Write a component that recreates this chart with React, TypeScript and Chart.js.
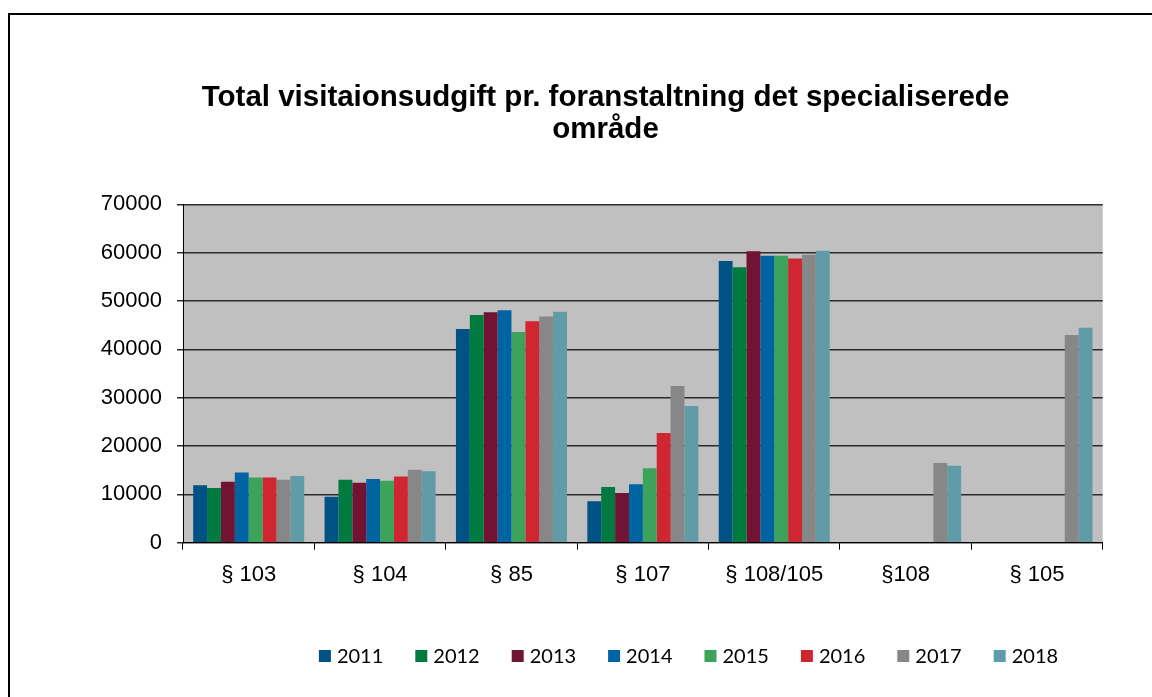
import React, { useEffect, useRef } from 'react';
import { Chart, registerables } from 'chart.js';

Chart.register(...registerables);

const titleLines = ['Total visitaionsudgift pr. foranstaltning det specialiserede', 'område'];
const categories = ['§ 103', '§ 104', '§ 85', '§ 107', '§ 108/105', '§108', '§ 105'];
const years = ['2011', '2012', '2013', '2014', '2015', '2016', '2017', '2018'];

const v2011 = [11900, 9500, 44200, 8600, 58300, null, null];
const v2012 = [11300, 13000, 47100, 11500, 57000, null, null];
const v2013 = [12600, 12400, 47700, 10300, 60300, null, null];
const v2014 = [14500, 13200, 48100, 12100, 59400, null, null];
const v2015 = [13500, 12800, 43600, 15400, 59400, null, null];
const v2016 = [13500, 13700, 45800, 22700, 58800, null, null];
const v2017 = [13000, 15100, 46800, 32400, 59600, 16500, 43000];
const v2018 = [13800, 14800, 47800, 28300, 60400, 15900, 44500];

const seriesValues = [v2011, v2012, v2013, v2014, v2015, v2016, v2017, v2018];
const seriesColors = ['#005285', '#007A3F', '#731333', '#0063A2', '#3DA35A', '#D02632', '#878787', '#5F9CA8'];

const yMin = 0;
const yMax = 70000;
const yStep = 10000;

const ARIAL = "'Liberation Sans', Arial, sans-serif";
Chart.defaults.font.family = ARIAL;
Chart.defaults.color = '#000000';

const frameAndBackground = {
  id: 'frameAndBackground',
  beforeDraw(chart: any) {
    const { ctx, chartArea } = chart;
    ctx.save();
    ctx.fillStyle = '#FFFFFF';
    ctx.fillRect(0, 0, chart.width, chart.height);
    ctx.fillStyle = '#C0C0C0';
    ctx.fillRect(chartArea.left, chartArea.top, chartArea.right - chartArea.left, chartArea.bottom - chartArea.top);
    ctx.strokeStyle = '#000000';
    ctx.lineWidth = 2;
    ctx.beginPath();
    ctx.moveTo(9, chart.height + 5);
    ctx.lineTo(9, 14);
    ctx.lineTo(chart.width + 5, 14);
    ctx.stroke();
    ctx.restore();
  },
};

const customLegend = {
  id: 'customLegend',
  afterDraw(chart: any) {
    const { ctx } = chart;
    const datasets = chart.data.datasets;
    ctx.save();
    ctx.font = '20px Lato, "Open Sans", sans-serif';
    ctx.textBaseline = 'middle';
    ctx.textAlign = 'left';
    const box = 12;
    const gapBoxText = 6;
    const gapItems = 32;
    const widths = datasets.map((d: any) => box + gapBoxText + ctx.measureText(d.label).width);
    const total = widths.reduce((a: number, b: number) => a + b, 0) + gapItems * (datasets.length - 1);
    const centerX = 688.5;
    const cy = 656;
    let x = centerX - total / 2;
    datasets.forEach((d: any, i: number) => {
      ctx.fillStyle = d.backgroundColor;
      ctx.fillRect(x, cy - box / 2, box, box);
      ctx.fillStyle = '#000000';
      ctx.fillText(d.label, x + box + gapBoxText, cy + 1);
      x += widths[i] + gapItems;
    });
    ctx.restore();
  },
};

export default function App() {
  const canvasRef = useRef<HTMLCanvasElement | null>(null);

  useEffect(() => {
    if (!canvasRef.current) return;
    const chart = new Chart(canvasRef.current, {
      type: 'bar',
      data: {
        labels: categories,
        datasets: years.map((y, i) => ({
          label: y,
          data: seriesValues[i],
          backgroundColor: seriesColors[i],
          borderWidth: 0,
          categoryPercentage: 0.845,
          barPercentage: 1.0,
          yAxisID: 'y',
        })),
      },
      options: {
        responsive: false,
        animation: false,
        layout: {
          padding: { left: 92, right: 33, top: 0, bottom: 104.3 },
        },
        plugins: {
          legend: { display: false },
          tooltip: { enabled: false },
          title: {
            display: true,
            text: titleLines,
            color: '#000000',
            font: { family: ARIAL, size: 29.5, weight: 'bold', lineHeight: 1.1 },
            padding: { top: 81.5, bottom: 58.0 },
          },
        },
        scales: {
          x: {
            offset: true,
            grid: {
              display: true,
              offset: true,
              drawOnChartArea: false,
              drawTicks: true,
              tickLength: 7,
              color: '#000000',
              lineWidth: 1,
            },
            border: { display: true, color: '#000000', width: 1 },
            ticks: {
              font: { family: ARIAL, size: 22 },
              color: '#000000',
              padding: 12,
              maxRotation: 0,
              autoSkip: false,
            },
            afterFit: (scale: any) => {
              scale.height = 50;
            },
          },
          y: {
            position: 'left',
            min: yMin,
            max: yMax,
            grid: {
              color: '#2b2b2b',
              lineWidth: 1.5,
              drawTicks: true,
              tickLength: 6,
            },
            border: { display: true, color: '#000000', width: 1 },
            ticks: {
              stepSize: yStep,
              font: { family: ARIAL, size: 22 },
              color: '#000000',
              padding: 15,
              callback: (v: any) => String(v),
            },
            afterFit: (scale: any) => {
              scale.width = 183 - 92;
            },
          },
          spacer: {
            type: 'linear',
            position: 'right',
            display: true,
            grid: { display: false, drawTicks: false },
            border: { display: false },
            ticks: { display: false },
            afterFit: (scale: any) => {
              scale.width = 1152 - 33 - 1102.7;
            },
          },
        },
      },
      plugins: [frameAndBackground, customLegend],
    });
    return () => chart.destroy();
  }, []);

  return (
    <div style={{ position: 'fixed', left: 0, top: 0, width: 1152, height: 697, background: '#fff' }}>
      <canvas ref={canvasRef} width={1152} height={697} style={{ width: 1152, height: 697, display: 'block' }} />
    </div>
  );
}
